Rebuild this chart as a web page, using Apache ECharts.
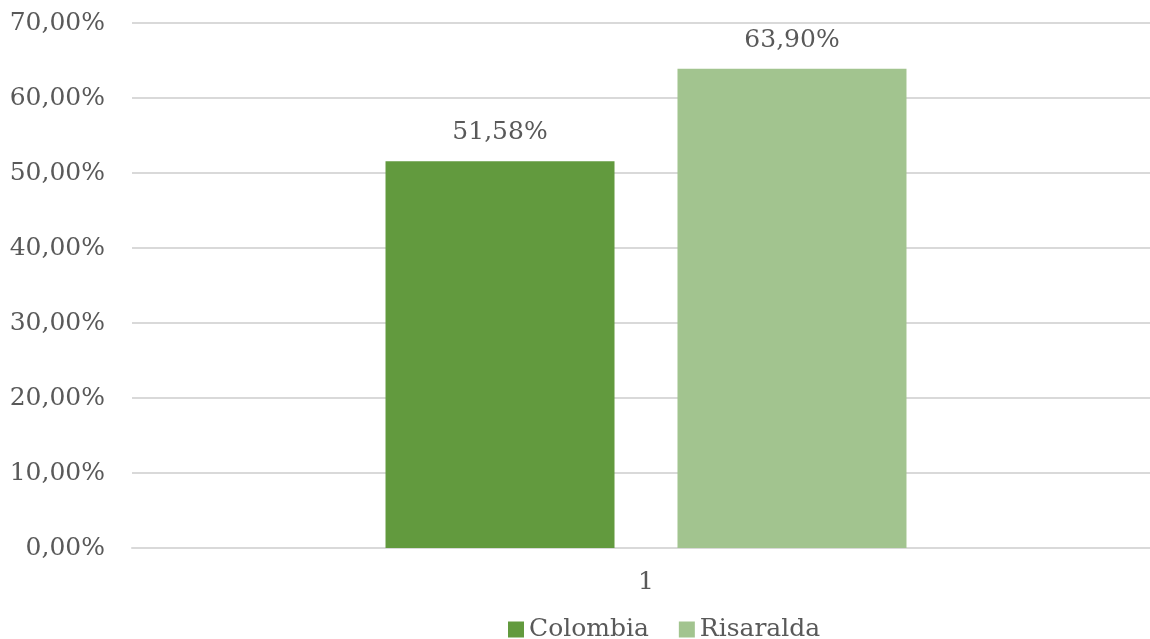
<!DOCTYPE html>
<html><head><meta charset="utf-8">
<script src="https://cdn.jsdelivr.net/npm/echarts@6/dist/echarts.min.js"></script>
<style>html,body{margin:0;padding:0;background:#fff}#c{width:1150px;height:639px}</style>
</head><body><div id="c"></div>
<script>
const categories = ['1'];
const seriesNames = ['Colombia', 'Risaralda'];
const colombiaValues = [51.58];
const risaraldaValues = [63.90];
const colors = ['#629a3e', '#a2c48f'];
const FONT = 'DejaVu Serif';
const fmt = v => v.toFixed(2).replace('.', ',') + '%';
const chart = echarts.init(document.getElementById('c'));
const mk = (name, data, color) => ({
  name, type: 'bar', data, barWidth: 229, barGap: '27.5%', xAxisIndex: 1, yAxisIndex: 1,
  itemStyle: { color },
  label: { show: true, position: 'top', distance: 16, color: '#595959', fontFamily: FONT, fontSize: 25,
    formatter: p => fmt(p.value) }
});
chart.setOption({
  animation: false,
  color: colors,
  grid: [
    { left: 132, right: 0, top: 23, bottom: 91, containLabel: false },
    { left: 142, right: 0, top: 23, bottom: 91, containLabel: false }
  ],
  legend: { bottom: -8, left: 503, itemWidth: 16, itemHeight: 16, itemGap: 30, icon: 'rect',
    textStyle: { color: '#595959', fontFamily: FONT, fontSize: 25 } },
  xAxis: [
    { type: 'category', gridIndex: 0, data: categories,
      axisLine: { lineStyle: { color: '#d9d9d9', width: 2 } }, axisTick: { show: false },
      axisLabel: { show: false } },
    { type: 'category', gridIndex: 1, data: categories,
      axisLine: { show: false }, axisTick: { show: false },
      axisLabel: { color: '#595959', fontFamily: FONT, fontSize: 25, margin: 22 } }
  ],
  yAxis: [
    { type: 'value', gridIndex: 0, min: 0, max: 70, interval: 10,
      axisLine: { show: false }, axisTick: { show: false },
      splitLine: { lineStyle: { color: '#d9d9d9', width: 2 } },
      axisLabel: { color: '#595959', fontFamily: FONT, fontSize: 25, margin: 27, formatter: v => fmt(v) } },
    { type: 'value', gridIndex: 1, min: 0, max: 70, interval: 10,
      axisLine: { show: false }, axisTick: { show: false }, splitLine: { show: false }, axisLabel: { show: false } }
  ],
  series: [mk(seriesNames[0], colombiaValues, colors[0]), mk(seriesNames[1], risaraldaValues, colors[1])]
});
</script></body></html>
